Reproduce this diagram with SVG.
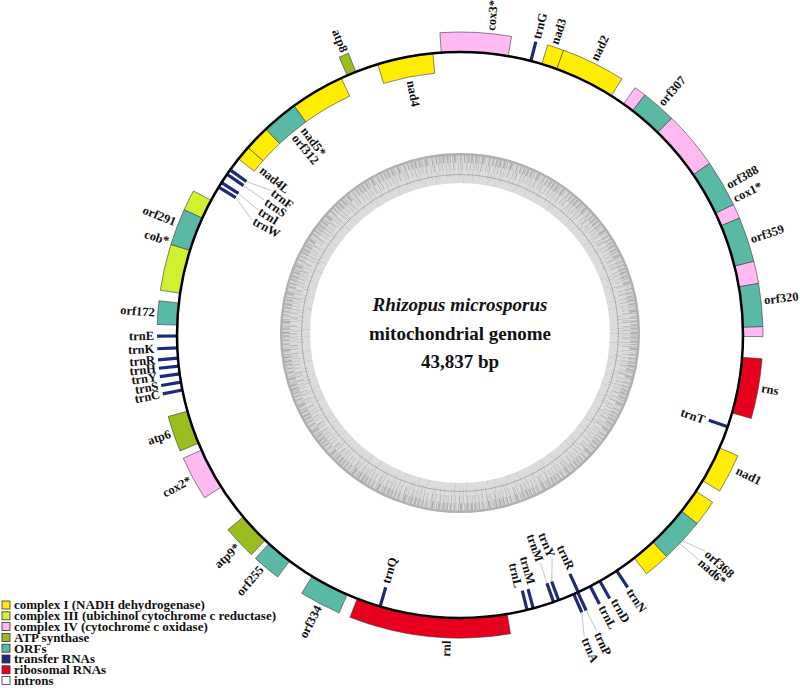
<svg xmlns="http://www.w3.org/2000/svg" width="800" height="688" viewBox="0 0 800 688">
<style>
.lb{font-family:"Liberation Serif","Times New Roman",serif;font-weight:bold;font-size:12.5px;dominant-baseline:central;fill:#111}
.s{text-anchor:start}.e{text-anchor:end}
.box{stroke:#3a3a3a;stroke-width:0.6}
.c1{fill:#ffed00}.c3{fill:#d2f032}.c4{fill:#ffbaf4}.atp{fill:#9bbd1e}.orf{fill:#5ab9a5}.rr{fill:#e6001e}.intr{fill:#fff}
.trn{stroke:#1d2b78;stroke-width:3.2}
.lead{stroke:#9a9a9a;stroke-width:0.6;fill:none}
.gc{fill:none;stroke:#b0b0b0}
.ct{font-family:"Liberation Serif","Times New Roman",serif;font-weight:bold;font-size:19px;text-anchor:middle;fill:#111}
.lg{font-family:"Liberation Serif","Times New Roman",serif;font-weight:bold;font-size:13px;fill:#111}
.sq{stroke:#333;stroke-width:0.8}
</style>
<rect width="800" height="688" fill="#fff"/>
<g id="gc-plot">
<circle cx="460" cy="333" r="165" fill="none" stroke="#dcdcdc" stroke-width="30"/>
<circle class="gc" cx="460" cy="333" r="178.8" stroke-width="2.4"/>
<circle class="gc" cx="460" cy="333" r="174" stroke-width="7.5" pathLength="1000" stroke-dasharray="1.2 0.4 0.7 0.9 1.8 0.5 0.4 1.1 1.5 0.3 0.5 0.8 0.9 1.3 0.4 0.5 2.2 0.7 0.6 1.4 0.3 0.9 1.0 0.4 0.5 1.6 1.3 0.6 0.4 1.0"/>
<circle class="gc" cx="460" cy="333" r="166.5" stroke-width="7.5" pathLength="1000" stroke-dasharray="0.5 1.3 0.4 2.1 0.8 0.7 0.3 2.8 0.6 1.5 0.4 1.0 0.9 3.4 0.5 0.9 0.3 1.9 0.7 2.4 0.4 0.6 0.3 1.7"/>
<circle class="gc" cx="460" cy="333" r="159.5" stroke-width="7" pathLength="1000" stroke-dasharray="0.4 3.1 0.3 5.2 0.5 2.2 0.3 6.6 0.4 3.7 0.4 4.4 0.3 1.9 0.3 8.1 0.4 2.6"/>
<circle class="gc" cx="460" cy="333" r="153" stroke-width="6" pathLength="1000" stroke-dasharray="0.3 9.7 0.3 15.1 0.3 6.9 0.3 21.3 0.3 11.5 0.3 27.9"/>
<circle cx="460" cy="333" r="158.5" fill="none" stroke="#8c8c8c" stroke-width="0.6"/>
</g>
<g id="title">
<text class="ct" x="460" y="311" font-style="italic">Rhizopus microsporus</text>
<text class="ct" x="460" y="339.5">mitochondrial genome</text>
<text class="ct" x="460" y="368">43,837 bp</text>
</g>
<g id="connectors">
<line class="lead" x1="246.42" y1="181.53" x2="270.93" y2="190.44"/>
<line class="lead" x1="243.51" y1="185.66" x2="264.09" y2="199.85"/>
<line class="lead" x1="238.44" y1="193.30" x2="257.73" y2="209.58"/>
<line class="lead" x1="235.76" y1="197.58" x2="251.84" y2="219.62"/>
<line class="lead" x1="551.67" y1="581.50" x2="552.22" y2="558.74"/>
<line class="lead" x1="546.92" y1="583.22" x2="540.38" y2="563.26"/>
<line class="lead" x1="586.13" y1="610.50" x2="596.74" y2="630.94"/>
<line class="lead" x1="581.79" y1="612.44" x2="584.23" y2="636.40"/>
<line class="lead" x1="682.3" y1="540.9" x2="705" y2="551"/>
<line class="lead" x1="679.5" y1="543.5" x2="698.5" y2="559.5"/>
</g>
<g id="cox3"><path class="box c4" d="M439.92,32.67A303,303 0 0 1 511.57,36.42L508.17,56.13A283,283 0 0 0 441.25,52.62Z"/><text class="lb s" transform="translate(490.92 30.57) rotate(-84.2)">cox3*</text></g>
<g id="trnG"><line class="trn" x1="530.86" y1="61.01" x2="535.86" y2="41.65"/><text class="lb s" transform="translate(536.62 38.75) rotate(-75.5)">trnG</text></g>
<g id="nad3"><path class="box c1" d="M547.58,44.93A303,303 0 0 1 563.63,50.27L556.79,69.07A283,283 0 0 0 541.80,64.08Z"/><text class="lb s" transform="translate(554.56 43.98) rotate(-72)">nad3</text></g>
<g id="nad2"><path class="box c1" d="M563.63,50.27A303,303 0 0 1 621.91,78.89L611.22,95.79A283,283 0 0 0 556.79,69.07Z"/><text class="lb s" transform="translate(594.14 59.97) rotate(-64)">nad2</text></g>
<g id="cox1">
<path class="box c4" d="M635.09,87.71A303,303 0 0 1 644.88,94.94L632.67,110.78A283,283 0 0 0 623.53,104.03Z"/>
<path class="box c4" d="M671.64,118.16A303,303 0 0 1 709.71,163.38L693.23,174.71A283,283 0 0 0 657.67,132.47Z"/>
<path class="box c4" d="M733.48,204.56A303,303 0 0 1 739.52,218.07L721.07,225.79A283,283 0 0 0 715.43,213.17Z"/>
<path class="box c4" d="M753.87,261.18A303,303 0 0 1 758.58,283.43L738.87,286.83A283,283 0 0 0 734.47,266.06Z"/>
<path class="box c4" d="M762.88,326.54A303,303 0 0 1 763.00,336.59L743.00,336.48A283,283 0 0 0 742.89,327.10Z"/>
<text class="lb s" transform="translate(734.09 198.94) rotate(-26.4)">cox1*</text>
</g>
<g id="orf307"><path class="box orf" d="M644.88,94.94A303,303 0 0 1 671.64,118.16L657.67,132.47A283,283 0 0 0 632.67,110.78Z"/><text class="lb s" transform="translate(660.75 104.06) rotate(-49)">orf307</text></g>
<g id="orf388"><path class="box orf" d="M709.71,163.38A303,303 0 0 1 733.48,204.56L715.43,213.17A283,283 0 0 0 693.23,174.71Z"/><text class="lb s" transform="translate(727.20 185.71) rotate(-29.2)">orf388</text></g>
<g id="orf359"><path class="box orf" d="M739.52,218.07A303,303 0 0 1 753.87,261.18L734.47,266.06A283,283 0 0 0 721.07,225.79Z"/><text class="lb s" transform="translate(750.69 239.43) rotate(-18.2)">orf359</text></g>
<g id="orf320"><path class="box orf" d="M758.58,283.43A303,303 0 0 1 762.88,326.54L742.89,327.10A283,283 0 0 0 738.87,286.83Z"/><text class="lb s" transform="translate(764.03 300.36) rotate(-6.5)">orf320</text></g>
<g id="rns"><path class="box rr" d="M762.07,358.77A303,303 0 0 1 751.26,418.52L732.04,413.01A283,283 0 0 0 742.13,357.20Z"/><text class="lb s" transform="translate(761.35 388.14) rotate(10)">rns</text></g>
<g id="trnT"><line class="trn" x1="708.82" y1="420.19" x2="727.74" y2="426.67"/><text class="lb e" transform="translate(704.59 420.18) rotate(19.2)">trnT</text></g>
<g id="nad1"><path class="box c1" d="M737.87,455.82A303,303 0 0 1 719.72,491.06L702.58,480.76A283,283 0 0 0 719.53,447.85Z"/><text class="lb s" transform="translate(736.83 470.02) rotate(26)">nad1</text></g>
<g id="nad6">
<path class="box c1" d="M712.67,502.24A303,303 0 0 1 697.13,523.62L681.48,511.17A283,283 0 0 0 695.99,491.20Z"/>
<path class="box c1" d="M666.65,556.60A303,303 0 0 1 646.54,573.77L634.23,558.01A283,283 0 0 0 653.01,541.97Z"/>
<text class="lb s" transform="translate(700 561) rotate(42)">nad6*</text>
</g>
<g id="orf368"><path class="box orf" d="M697.13,523.62A303,303 0 0 1 666.65,556.60L653.01,541.97A283,283 0 0 0 681.48,511.17Z"/><text class="lb s" transform="translate(706.5 552.5) rotate(42)">orf368</text></g>
<g id="trnN"><line class="trn" x1="616.61" y1="570.72" x2="627.68" y2="587.37"/><text class="lb s" transform="translate(629.34 589.87) rotate(56.4)">trnN</text></g>
<g id="trnD"><line class="trn" x1="599.78" y1="581.07" x2="609.66" y2="598.46"/><text class="lb s" transform="translate(613.92 599.47) rotate(59.8)">trnD</text></g>
<g id="trnL1"><line class="trn" x1="590.24" y1="586.25" x2="599.44" y2="604.01"/><text class="lb s" transform="translate(601.77 606.18) rotate(62.4)">trnL</text></g>
<g id="trnP"><line class="trn" x1="577.81" y1="592.31" x2="586.13" y2="610.50"/><text class="lb s" transform="translate(597.58 632.75) rotate(65.2)">trnP</text></g>
<g id="trnA"><line class="trn" x1="573.75" y1="594.13" x2="581.79" y2="612.44"/><text class="lb s" transform="translate(584.99 638.25) rotate(67.6)">trnA</text></g>
<g id="trnR1"><line class="trn" x1="569.90" y1="573.94" x2="578.26" y2="592.11"/><text class="lb e" transform="translate(571.10 568.97) rotate(64.6)">trnR</text></g>
<g id="trnY1"><line class="trn" x1="551.67" y1="581.50" x2="558.65" y2="600.25"/><text class="lb e" transform="translate(551.46 556.89) rotate(67.6)">trnY</text></g>
<g id="trnM1"><line class="trn" x1="546.92" y1="583.22" x2="553.53" y2="602.10"/><text class="lb e" transform="translate(539.72 561.37) rotate(70.6)">trnM</text></g>
<g id="trnM2"><line class="trn" x1="528.07" y1="589.04" x2="533.25" y2="608.36"/><text class="lb e" transform="translate(531.39 583.97) rotate(74)">trnM</text></g>
<g id="trnL2"><line class="trn" x1="522.29" y1="590.52" x2="527.03" y2="609.95"/><text class="lb e" transform="translate(518.26 587.36) rotate(77)">trnL</text></g>
<g id="rnl"><path class="box rr" d="M510.53,633.76A303,303 0 0 1 349.94,617.30L357.20,598.67A283,283 0 0 0 507.20,614.04Z"/><text class="lb e" transform="translate(446.65 640.71) rotate(-87.5)">rnl</text></g>
<g id="trnQ"><line class="trn" x1="385.74" y1="587.30" x2="380.10" y2="606.48"/><text class="lb s" transform="translate(386.01 583.20) rotate(-73.4)">trnQ</text></g>
<g id="orf334"><path class="box orf" d="M339.18,612.87A303,303 0 0 1 301.68,593.35L312.13,576.30A283,283 0 0 0 347.15,594.53Z"/><text class="lb e" transform="translate(318.70 606.43) rotate(-62.5)">orf334</text></g>
<g id="orf255"><path class="box orf" d="M277.65,576.99A303,303 0 0 1 255.30,558.40L268.81,543.65A283,283 0 0 0 289.68,561.02Z"/><text class="lb e" transform="translate(261.27 567.69) rotate(-49.5)">orf255</text></g>
<g id="atp9"><path class="box atp" d="M251.43,554.79A303,303 0 0 1 227.89,529.77L243.21,516.91A283,283 0 0 0 265.20,540.28Z"/><text class="lb e" transform="translate(238.04 545.64) rotate(-43.5)">atp9*</text></g>
<g id="cox2"><path class="box c4" d="M204.45,497.80A303,303 0 0 1 183.19,458.24L201.47,450.11A283,283 0 0 0 221.32,487.06Z"/><text class="lb e" transform="translate(190.32 479.60) rotate(-28.2)">cox2*</text></g>
<g id="atp6"><path class="box atp" d="M180.06,450.95A303,303 0 0 1 168.16,416.48L187.43,411.10A283,283 0 0 0 198.54,443.30Z"/><text class="lb e" transform="translate(170.33 433.61) rotate(-18.8)">atp6</text></g>
<g id="trnC"><line class="trn" x1="182.39" y1="389.97" x2="162.77" y2="393.85"/><text class="lb e" transform="translate(159.83 394.43) rotate(-11.2)">trnC</text></g>
<g id="trnS1"><line class="trn" x1="180.96" y1="382.20" x2="161.24" y2="385.53"/><text class="lb e" transform="translate(158.28 386.03) rotate(-9.6)">trnS</text></g>
<g id="trnY2"><line class="trn" x1="179.69" y1="373.90" x2="159.88" y2="376.64"/><text class="lb e" transform="translate(156.90 377.06) rotate(-7.9)">trnY</text></g>
<g id="trnH"><line class="trn" x1="178.71" y1="366.05" x2="158.83" y2="368.25"/><text class="lb e" transform="translate(155.85 368.58) rotate(-6.3)">trnH</text></g>
<g id="trnR2"><line class="trn" x1="177.95" y1="358.19" x2="158.02" y2="359.83"/><text class="lb e" transform="translate(155.03 360.07) rotate(-4.7)">trnR</text></g>
<g id="trnK"><line class="trn" x1="177.29" y1="347.84" x2="157.31" y2="348.74"/><text class="lb e" transform="translate(154.32 348.88) rotate(-2.6)">trnK</text></g>
<g id="trnE"><line class="trn" x1="177.00" y1="335.99" x2="157.00" y2="336.06"/><text class="lb e" transform="translate(154.00 336.07) rotate(-0.2)">trnE</text></g>
<g id="orf172"><path class="box orf" d="M157.18,324.43A303,303 0 0 1 158.95,300.70L178.82,302.96A283,283 0 0 0 177.17,325.12Z"/><text class="lb e" transform="translate(154.82 312.59) rotate(4.2)">orf172</text></g>
<g id="cob">
<path class="box c3" d="M160.33,290.21A303,303 0 0 1 170.87,244.39L189.95,250.37A283,283 0 0 0 180.11,293.17Z"/>
<path class="box c3" d="M184.06,209.83A303,303 0 0 1 193.47,190.89L211.06,200.40A283,283 0 0 0 202.28,218.09Z"/>
<text class="lb e" transform="translate(168.65 241.46) rotate(17.8)">cob*</text>
</g>
<g id="orf291"><path class="box orf" d="M170.87,244.39A303,303 0 0 1 184.06,209.83L202.28,218.09A283,283 0 0 0 189.95,250.37Z"/><text class="lb e" transform="translate(175.49 222.36) rotate(21.6)">orf291</text></g>
<g id="trnW"><line class="trn" x1="235.76" y1="197.58" x2="218.70" y2="187.13"/><text class="lb s" transform="translate(253.59 220.58) rotate(29)">trnW</text></g>
<g id="trnI"><line class="trn" x1="238.44" y1="193.30" x2="221.59" y2="182.53"/><text class="lb s" transform="translate(259.43 210.64) rotate(31.8)">trnI</text></g>
<g id="trnS2"><line class="trn" x1="243.51" y1="185.66" x2="227.05" y2="174.30"/><text class="lb s" transform="translate(265.74 200.99) rotate(34.6)">trnS</text></g>
<g id="trnF"><line class="trn" x1="246.42" y1="181.53" x2="230.18" y2="169.86"/><text class="lb s" transform="translate(272.52 191.66) rotate(37.4)">trnF</text></g>
<g id="nad4L"><path class="box c1" d="M238.52,158.83A283,283 0 0 1 248.04,147.48L263.02,160.73A263,263 0 0 0 254.17,171.28Z"/><text class="lb s" transform="translate(261.30 168.86) rotate(39.9)">nad4L</text></g>
<g id="nad5">
<path class="box c1" d="M248.04,147.48A283,283 0 0 1 265.91,129.04L279.63,143.60A263,263 0 0 0 263.02,160.73Z"/>
<path class="box c1" d="M294.04,105.77A283,283 0 0 1 341.30,78.10L349.68,96.25A263,263 0 0 0 305.77,121.97Z"/>
<text class="lb s" transform="translate(303.41 128.70) rotate(52.8)">nad5*</text>
</g>
<g id="orf312"><path class="box orf" d="M265.91,129.04A283,283 0 0 1 294.04,105.77L305.77,121.97A263,263 0 0 0 279.63,143.60Z"/><text class="lb s" transform="translate(294.21 136.02) rotate(50.2)">orf312</text></g>
<g id="atp8"><path class="box atp" d="M339.18,57.13A303,303 0 0 1 348.46,53.28L355.82,71.87A283,283 0 0 0 347.15,75.47Z"/><text class="lb e" transform="translate(344.38 51.68) rotate(67.8)">atp8</text></g>
<g id="nad4"><path class="box c1" d="M377.73,64.22A283,283 0 0 1 432.87,53.30L434.79,73.21A263,263 0 0 0 383.55,83.36Z"/><text class="lb s" transform="translate(410.58 80.76) rotate(79)">nad4</text></g>
<g id="genome-circle"><circle cx="460" cy="335" r="283" fill="none" stroke="#000" stroke-width="2.5"/></g>
<g id="legend">
<rect class="sq c1" x="2" y="601" width="8" height="8"/><text class="lg" x="14" y="609.3">complex I (NADH dehydrogenase)</text>
<rect class="sq c3" x="2" y="611.8" width="8" height="8"/><text class="lg" x="14" y="620.1">complex III (ubichinol cytochrome c reductase)</text>
<rect class="sq c4" x="2" y="622.6" width="8" height="8"/><text class="lg" x="14" y="630.9">complex IV (cytochrome c oxidase)</text>
<rect class="sq atp" x="2" y="633.4" width="8" height="8"/><text class="lg" x="14" y="641.7">ATP synthase</text>
<rect class="sq orf" x="2" y="644.2" width="8" height="8"/><text class="lg" x="14" y="652.5">ORFs</text>
<rect class="sq" x="2" y="655" width="8" height="8" fill="#1d2b78"/><text class="lg" x="14" y="663.3">transfer RNAs</text>
<rect class="sq rr" x="2" y="665.8" width="8" height="8"/><text class="lg" x="14" y="674.1">ribosomal RNAs</text>
<rect class="sq intr" x="2" y="676.6" width="8" height="8"/><text class="lg" x="14" y="684.9">introns</text>
</g>
</svg>
